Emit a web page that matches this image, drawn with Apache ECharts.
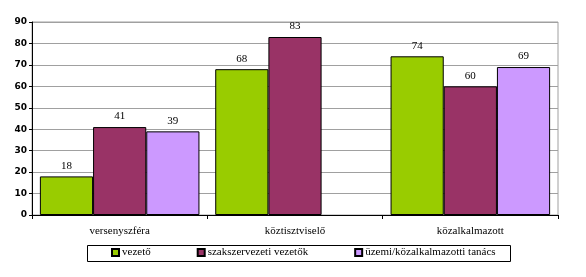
<!DOCTYPE html>
<html><head><meta charset="utf-8">
<script src="https://cdn.jsdelivr.net/npm/echarts@6/dist/echarts.min.js"></script>
<style>html,body{margin:0;padding:0;background:#fff}#c{width:586px;height:277px}</style>
</head><body><div id="c"></div>
<script>
const categories = ['versenyszféra', 'köztisztviselő', 'közalkalmazott'];
const seriesNames = ['vezető', 'szakszervezeti vezetők', 'üzemi/közalkalmazotti tanács'];
const vezeto = [18, 68, 74];
const szakszervezeti = [41, 83, 60];
const uzemi = [39, null, 69];
const colors = ['#99CC00', '#993366', '#CC99FF'];

const chart = echarts.init(document.getElementById('c'), null, {renderer: 'canvas'});
const serif = '"Liberation Serif", "Times New Roman", serif';
function mk(name, data, color) {
  return {
    name: name, type: 'bar', data: data, barGap: '0%', barCategoryGap: '9%',
    itemStyle: {color: color, borderColor: '#000', borderWidth: 1},
    label: {show: true, position: 'top', distance: 5, color: '#000', fontFamily: serif, fontSize: 11},
    emphasis: {disabled: true}
  };
}
chart.setOption({
  animation: false,
  grid: {left: 32, right: 28, top: 22, bottom: 62, show: true, borderColor: '#a0a0a0', borderWidth: 1},
  xAxis: {
    type: 'category', data: categories,
    axisLine: {lineStyle: {color: '#000', width: 1}},
    axisTick: {show: true, length: 4, lineStyle: {color: '#000'}},
    axisLabel: {color: '#000', fontFamily: serif, fontSize: 11, margin: 11}
  },
  yAxis: {
    type: 'value', min: 0, max: 90, interval: 10,
    axisLine: {show: true, lineStyle: {color: '#000', width: 1}},
    axisTick: {show: true, length: 3, lineStyle: {color: '#000'}},
    axisLabel: {color: '#000', fontFamily: '"DejaVu Sans", Verdana, sans-serif', fontWeight: 'bold', fontSize: 9, margin: 5},
    splitLine: {lineStyle: {color: '#a0a0a0', width: 1}}
  },
  legend: {
    data: seriesNames, left: 111, top: 247, itemGap: 46, itemWidth: 7, itemHeight: 7,
    icon: 'rect', padding: 0,
    textStyle: {color: '#000', fontFamily: serif, fontSize: 11, padding: [0, 0, 0, -2]},
    selectedMode: false
  },
  graphic: [{
    type: 'rect', shape: {x: 87.5, y: 245.5, width: 423, height: 16},
    style: {fill: 'none', stroke: '#000', lineWidth: 1}, silent: true
  }],
  series: [
    mk(seriesNames[0], vezeto, colors[0]),
    mk(seriesNames[1], szakszervezeti, colors[1]),
    mk(seriesNames[2], uzemi, colors[2])
  ]
});
</script></body></html>
